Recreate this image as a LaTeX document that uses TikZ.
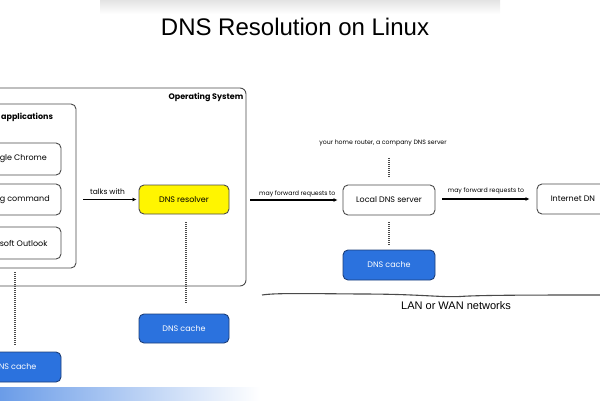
\documentclass[tikz,border=0pt]{standalone}
\usepackage{fontspec}
\setmainfont{Poppins}
\newfontfamily\titelschrift{Liberation Sans}
\usepackage{xcolor}
\usepackage{tikz}
\usetikzlibrary{arrows.meta}
\usetikzlibrary{positioning}
\definecolor{rahmen}{HTML}{4A4A4A}
\definecolor{cacheblau}{HTML}{2B72DE}
\definecolor{cacherand}{HTML}{1C3E78}
\definecolor{resolvergelb}{HTML}{FFF500}
\tikzset{
  Box/.style={draw=rahmen, line width=0.9pt, rounded corners=5pt,
    minimum height=30pt, inner sep=0pt, font=\fontsize{8}{9}\selectfont}, % Kaesten
  CacheBox/.style={Box, draw=cacherand, fill=cacheblau, text=white}, % Caches
  Pfeil/.style={line width=1.2pt, -{Latex[length=4pt,width=4pt]}}, % Pfeile
  Punkte/.style={line width=1.3pt, dash pattern=on 1pt off 1pt, rahmen}, % gepunktete Linien
  Klein/.style={font=\fontsize{6.2}{7}\selectfont, inner sep=1.5pt}, % Beschriftung
  Fett/.style={font=\fontsize{8}{9}\selectfont\bfseries, inner sep=0pt}
}
\begin{document}
\begin{tikzpicture}[x=1pt, y=-1pt,
>=Latex % Voreinstellung fuer Pfeilspitzen
]
\useasboundingbox (0,0) rectangle (600,400);

%Hintergrund
\shade[top color=black!11, bottom color=white] (100,0) rectangle (500,14);
\shade[left color=cacheblau!70, right color=white] (0,387) rectangle (260,400);

%Titel
\node[font=\titelschrift\fontsize{24}{28}\selectfont] (titel) at (295,27) {DNS Resolution on Linux};

%Betriebssystem
\node[Box, minimum width=256pt, minimum height=198pt, rounded corners=6pt] (os) at (118,187) {};
\node[Fett, anchor=north east] (ostext) at ([xshift=-3pt,yshift=-5pt]os.north east) {Operating System};

%Anwendungen
\node[Box, minimum width=86pt, minimum height=164pt] (apps) at (33,186) {};
\node[Fett, anchor=west] (appstext) at (1,117) {applications};
\node[Box, minimum width=71pt, minimum height=32pt] (chrome) at (25.5,159) {};
\node[Box, minimum width=71pt, minimum height=31pt] (befehl) at (25.5,199.5) {};
\node[Box, minimum width=71pt, minimum height=32pt] (outlook) at (25.5,243) {};
\node[font=\fontsize{8}{9}\selectfont, inner sep=0pt, anchor=west] (chrometext) at ([xshift=10pt]chrome.west) {gle Chrome};
\node[font=\fontsize{8}{9}\selectfont, inner sep=0pt, anchor=west] (befehltext) at ([xshift=10pt]befehl.west) {g command};
\node[font=\fontsize{8}{9}\selectfont, inner sep=0pt, anchor=west] (outlooktext) at ([xshift=10pt]outlook.west) {soft Outlook};

%Resolver und Caches
\node[Box, fill=resolvergelb, minimum width=90pt, minimum height=29pt] (resolver) at (184,199.5) {DNS resolver};
\node[CacheBox, minimum width=90pt, minimum height=29pt] (oscache) at (184,328.5) {DNS cache};
\node[CacheBox, minimum width=71pt] (appcache) at (25.5,367) {};
\node[font=\fontsize{8}{9}\selectfont, inner sep=0pt, anchor=west, text=white] (appcachetext) at ([xshift=9pt]appcache.west) {NS cache};

%Netzwerk
\node[Box, minimum width=92pt] (lokal) at (389,200) {Local DNS server};
\node[CacheBox, minimum width=92pt] (lokalcache) at (389,265) {DNS cache};
\node[Klein] (hinweis) at (383,143) {your home router, a company DNS server};
\node[Box, minimum width=74pt, minimum height=30pt] (internet) at (574,199) {};
\node[font=\fontsize{8}{9}\selectfont, inner sep=0pt, anchor=west] (internettext) at ([xshift=14pt]internet.west) {Internet DN};

%Pfeile
\draw[Pfeil, shorten <=7pt, shorten >=2pt] (apps.east |- resolver.west) -- (resolver.west)
  node[midway, above, font=\fontsize{7.5}{8}\selectfont, inner sep=1.5pt, yshift=3pt] {talks with};
\draw[Pfeil, shorten <=21pt, shorten >=5pt] (resolver.east |- lokal.west) -- (lokal.west)
  node[pos=0.6, above, Klein, yshift=1pt] {may forward requests to};
\draw[Pfeil, shorten <=7pt, shorten >=7pt] (lokal.east |- internet.west) -- (internet.west)
  node[midway, above, Klein, yshift=3pt] {may forward requests to};

%gepunktete Linien
\draw[Punkte, shorten <=4pt, shorten >=7pt] ([xshift=-18pt]apps.south) -- ([xshift=-10.5pt]appcache.north);
\draw[Punkte, shorten <=8pt, shorten >=11pt] ([xshift=2pt]resolver.south) -- ([xshift=2pt]oscache.north);
\draw[Punkte, shorten <=7pt, shorten >=5pt] (lokal.south) -- (lokalcache.north);
\draw[Punkte, shorten <=10pt, shorten >=7pt] (lokal.north |- hinweis.south) -- (lokal.north);

%LAN / WAN
\coordinate (netzlinks) at (262,295);
\coordinate (netzrechts) at (605,295);
\draw[rahmen, line width=1.1pt] (netzlinks) .. controls (275,293) and (300,293.5) .. (360,294)
  .. controls (420,294) and (440,297.5) .. (460,296.5) .. controls (480,295) and (540,295) .. (netzrechts);
\node[font=\titelschrift\fontsize{11}{13}\selectfont] (netztext) at (456,306) {LAN or WAN networks};

\end{tikzpicture}
\end{document}
